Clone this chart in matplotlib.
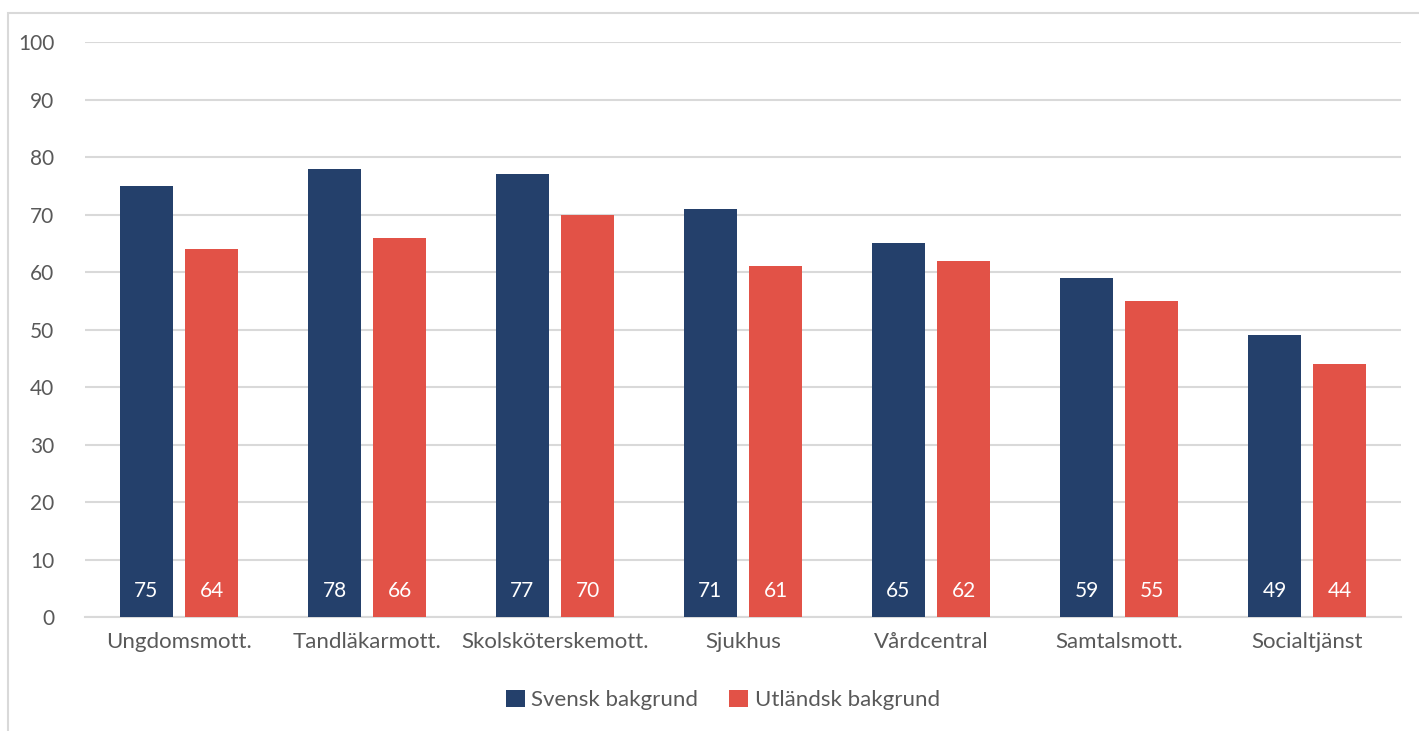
import matplotlib.pyplot as plt
import matplotlib.patches as mpatches
import numpy as np

plt.rcParams['font.family'] = ['Lato', 'DejaVu Sans']

categories = ['Ungdomsmott.', 'Tandläkarmott.', 'Skolsköterskemott.', 'Sjukhus',
              'Vårdcentral', 'Samtalsmott.', 'Socialtjänst']
svensk = [75, 78, 77, 71, 65, 59, 49]
utlandsk = [64, 66, 70, 61, 62, 55, 44]
series_names = ['Svensk bakgrund', 'Utländsk bakgrund']

blue = '#24406B'
red = '#E25247'
text_col = '#595959'
grid_col = '#D9D9D9'

fig = plt.figure(figsize=(14.19, 7.31), dpi=100)
ax = fig.add_axes([85 / 1419, 1 - 617 / 731, 1316 / 1419, 575 / 731])

# light frame around the chart area (runs off the right/bottom edge)
fig.patches.append(mpatches.Rectangle((8 / 1419, -0.05), 1.1, 1 - 13 / 731 + 0.05,
                                      transform=fig.transFigure, fill=False,
                                      edgecolor='#D9D9D9', linewidth=1.5))

x = np.arange(len(categories))
w = 0.282
off = 0.173
b1 = ax.bar(x - off, svensk, w, color=blue, label=series_names[0], zorder=3)
b2 = ax.bar(x + off, utlandsk, w, color=red, label=series_names[1], zorder=3)

for bars in (b1, b2):
    for rect in bars:
        ax.text(rect.get_x() + rect.get_width() / 2, 4.6, f'{rect.get_height():.0f}',
                ha='center', va='center', color='white', fontsize=15, zorder=4)

ax.set_xlim(-0.5, len(categories) - 0.5)
ax.set_ylim(0, 100)
ax.set_yticks(range(0, 101, 10))
ax.set_xticks(x)
ax.set_xticklabels(categories)
ax.tick_params(axis='both', length=0, labelsize=15, labelcolor=text_col)
ax.tick_params(axis='x', labelsize=16, pad=11)
ax.tick_params(axis='y', pad=22)
ax.grid(axis='y', color=grid_col, linewidth=1.5, zorder=0)
for s in ['top', 'right', 'left']:
    ax.spines[s].set_visible(False)
ax.spines['bottom'].set_color(grid_col)
ax.spines['bottom'].set_linewidth(1.5)

fig.legend(handles=[b1, b2], labels=series_names, loc='center',
           bbox_to_anchor=(723 / 1419, 1 - 700 / 731), ncol=2, frameon=False,
           fontsize=16, labelcolor=text_col, handlelength=0.85, handleheight=0.85,
           handletextpad=0.3, columnspacing=1.4)

fig.savefig('out.png', dpi=100)
